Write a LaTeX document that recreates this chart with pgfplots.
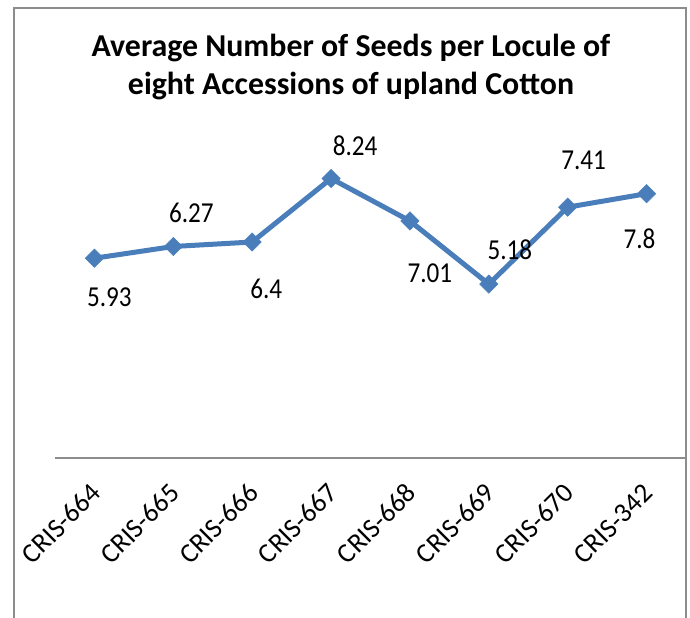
\documentclass[border=0pt]{standalone}
\usepackage{fontspec}
\setmainfont{Carlito}
\newfontfamily\labfont{Carlito}[FakeStretch=0.87]
\usepackage{pgfplots}
\usepackage{pgfplotstable}
\pgfplotsset{compat=1.18}
\definecolor{lineblue}{HTML}{4A7EBB}
\definecolor{framegray}{HTML}{8C8C8C}
\pgfplotstableread{
x y dx dy
0 5.93 15 -39
1 6.27 18 34
2 6.4 14 -47
3 8.24 24 33
4 7.01 20 -52
5 5.18 21 34
6 7.41 16 47
7 7.8 -7 -45
}\seeds
\begin{document}
\begin{tikzpicture}
\useasboundingbox (0,0) rectangle (690bp,618bp);
\draw[framegray, line width=1.5bp] (14bp,0) -- (14bp,610bp) -- (686bp,610bp) -- (686bp,0);
\node[font=\bfseries\fontsize{32}{38}\selectfont, align=center] at (351bp,551bp)
  {Average Number of Seeds per Locule of\\eight Accessions of upland Cotton};
\begin{axis}[
  at={(55bp,160bp)}, anchor=south west,
  scale only axis, width=631bp, height=340.2bp,
  xmin=-0.5, xmax=7.5, ymin=0.14, ymax=10,
  clip=false,
  hide y axis,
  axis x line*=bottom,
  x axis line style={draw=framegray, line width=1.5bp},
  xtick=data,
  xticklabels={CRIS-664,CRIS-665,CRIS-666,CRIS-667,CRIS-668,CRIS-669,CRIS-670,CRIS-342},
  major tick length=0pt,
  xticklabel style={font=\fontsize{27.5}{30}\selectfont, xshift=8bp, yshift=-37bp, rotate=45, anchor=base east, inner sep=0pt},
]
\addplot[lineblue, line width=5bp, mark=square*, mark size=6.5bp,
  mark options={rotate=45, fill=lineblue, draw=lineblue, line width=0.5bp},
  point meta=explicit symbolic,
  visualization depends on={\thisrow{dx} \as \dx},
  visualization depends on={\thisrow{dy} \as \dy},
  nodes near coords,
  nodes near coords style={font=\labfont\fontsize{29}{32}\selectfont, text=black, anchor=center, xshift=\dx*1bp, yshift=\dy*1bp}
] table[x=x, y=y, meta=y] {\seeds};
\end{axis}
\end{tikzpicture}
\end{document}
